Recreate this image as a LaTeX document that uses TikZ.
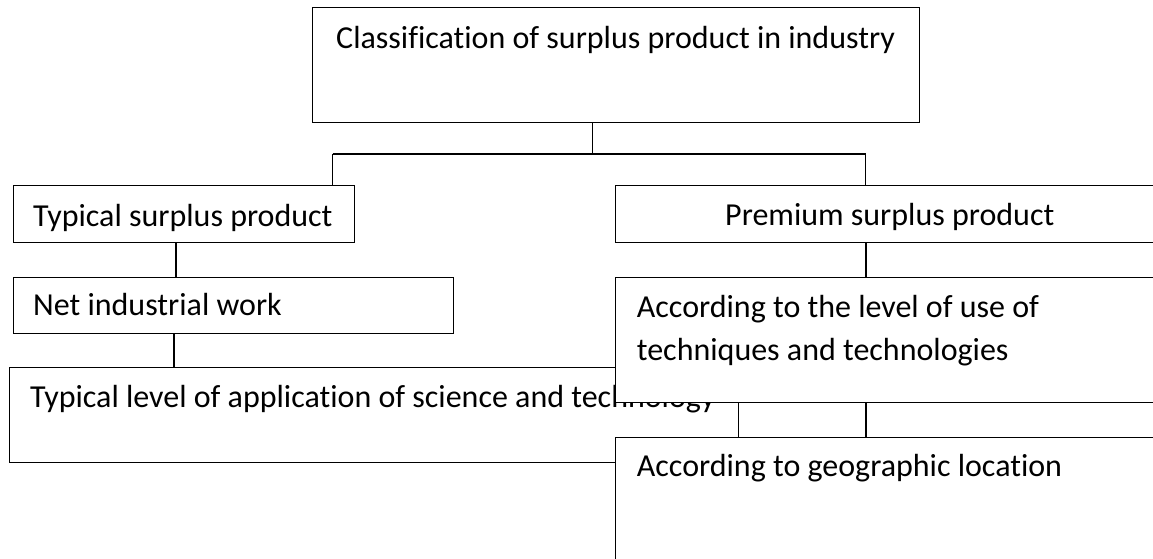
\documentclass[tikz,border=0pt]{standalone}
\usepackage{fontspec}
\setmainfont{Carlito}[Ligatures=NoCommon]
\begin{document}
\begin{tikzpicture}[x=1pt,y=-1pt,
  boxnode/.style={draw=black,line width=1.1pt,fill=white,inner sep=0pt,anchor=north west},
  txt/.style={inner sep=0pt,anchor=base west,font=\fontsize{32}{42.7}\selectfont},
  conn/.style={draw=black,line width=1.3pt}]
\useasboundingbox (0,0) rectangle (1153,559);
\clip (0,0) rectangle (1153,559);
% top box
\node[boxnode,minimum width=607pt,minimum height=115.3pt] (top) at (312.3,6.7) {};
\node[txt] (ttop) at (336,48.3) {Classification of surplus product in industry};
\coordinate (hl) at (332.7,154);
\coordinate (hr) at (865.7,154);
\draw[conn] (top.south -| 592.7,0) -- (592.7,154);
\draw[conn] (hl) -- (hr);
% left column
\node[boxnode,minimum width=341.6pt,minimum height=56.7pt] (typ) at (12.7,185) {};
\node[txt] (ttyp) at (33,226) {Typical surplus product};
\node[boxnode,minimum width=440pt,minimum height=56.6pt] (net) at (12.7,276.7) {};
\node[txt] (tnet) at (33,315) {Net industrial work};
\node[boxnode,minimum width=728.4pt,minimum height=94.3pt] (lev) at (9.3,367.3) {};
\node[txt] (tlev) at (30,407) {Typical level of application of science and technology};
% right column
\node[boxnode,minimum width=560pt,minimum height=57pt] (pre) at (615,185) {};
\node[txt] (tpre) at (725,225) {Premium surplus product};
\node[boxnode,minimum width=560pt,minimum height=125pt] (acc) at (615,276.7) {};
\node[txt] (tacc1) at (636.7,317.3) {According to the level of use of};
\node[txt] (tacc2) at (636.7,360) {techniques and technologies};
\node[boxnode,minimum width=560pt,minimum height=160pt] (geo) at (615,436.7) {};
\node[txt] (tgeo) at (636.7,476.7) {According to geographic location};
% connectors
\draw[conn] (hl) -- (hl |- typ.north);
\draw[conn] (hr) -- (hr |- pre.north);
\draw[conn] (typ.south -| 176,0) -- (net.north -| 176,0);
\draw[conn] (net.south -| 174,0) -- (lev.north -| 174,0);
\draw[conn] (pre.south -| 866,0) -- (acc.north -| 866,0);
\draw[conn] (acc.south -| 866,0) -- (geo.north -| 866,0);
\end{tikzpicture}
\end{document}
